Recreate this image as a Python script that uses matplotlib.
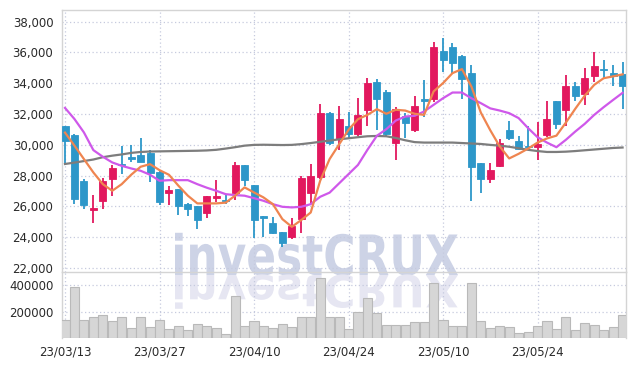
import matplotlib
matplotlib.use("Agg")
import matplotlib.pyplot as plt
import numpy as np
from matplotlib import font_manager
from matplotlib.font_manager import FontProperties
from matplotlib.textpath import TextPath
from matplotlib.patches import PathPatch
from matplotlib.transforms import Affine2D, IdentityTransform
from matplotlib.ticker import FuncFormatter

""" Data """
dates = ["23/03/13", "23/03/14", "23/03/15", "23/03/16", "23/03/17",
         "23/03/20", "23/03/21", "23/03/22", "23/03/23", "23/03/24",
         "23/03/27", "23/03/28", "23/03/29", "23/03/30", "23/03/31",
         "23/04/03", "23/04/04", "23/04/05", "23/04/06", "23/04/07",
         "23/04/10", "23/04/11", "23/04/12", "23/04/13", "23/04/14",
         "23/04/17", "23/04/18", "23/04/19", "23/04/20", "23/04/21",
         "23/04/24", "23/04/25", "23/04/26", "23/04/27", "23/04/28",
         "23/05/02", "23/05/03", "23/05/04", "23/05/08", "23/05/09",
         "23/05/10", "23/05/11", "23/05/12", "23/05/15", "23/05/16",
         "23/05/17", "23/05/18", "23/05/19", "23/05/22", "23/05/23",
         "23/05/24", "23/05/25", "23/05/26", "23/05/30", "23/05/31",
         "23/06/01", "23/06/02", "23/06/05", "23/06/07", "23/06/08"]

opens = [31200, 30650, 27650, 25800, 26350, 27800, 28750, 29150, 29350, 29500,
         28250, 26900, 27150, 26150, 26000, 25550, 26550, 26450, 26900, 28700,
         27400, 25400, 24950, 24350, 24000, 25200, 26900, 27900, 32050, 30400,
         31250, 30700, 32250, 34100, 33450, 30150, 31900, 30950, 32950, 32950,
         36100, 36350, 35800, 34700, 28800, 27800, 28600, 30950, 30250, 29950,
         29850, 30650, 32850, 32250, 33850, 33300, 34500, 34950, 34650, 34600]
highs = [31250, 30700, 27800, 26750, 27850, 28700, 29950, 30000, 30450, 29650,
         28300, 27300, 27150, 26250, 26000, 26700, 27750, 26750, 28900, 28700,
         27400, 25400, 25300, 24350, 25250, 27950, 28750, 32650, 32150, 32500,
         32150, 33050, 34350, 34250, 33550, 32450, 32100, 33200, 34200, 36700,
         36950, 36600, 35850, 35200, 28800, 28800, 30400, 31550, 30600, 31200,
         31500, 32850, 32850, 34550, 34100, 35000, 36050, 35500, 35200, 35400]
lows = [28850, 26150, 25850, 24900, 25850, 26700, 28100, 28900, 28900, 27600,
        26100, 26100, 25450, 25350, 24550, 25250, 26300, 26150, 26450, 27300,
        23950, 24000, 24200, 23350, 23900, 24250, 26150, 27800, 30000, 29650,
        30450, 30550, 31200, 30950, 30600, 29050, 30450, 30850, 31800, 32800,
        34750, 34650, 32950, 26350, 26850, 27500, 28550, 30300, 29700, 29700,
        29050, 30500, 31000, 31200, 32850, 32600, 34100, 34350, 33800, 32300]
closes = [30250, 26500, 26100, 25850, 27650, 28500, 28700, 29100, 28900, 28200,
          26300, 27100, 26050, 25850, 25150, 26650, 26700, 26350, 28700, 27750,
          25150, 25250, 24300, 23600, 24750, 27850, 27950, 32050, 30100, 31700,
          30700, 31950, 34050, 32950, 30700, 32300, 31450, 32550, 32850, 36350,
          35500, 35350, 34250, 28550, 27800, 28400, 30100, 30450, 29750, 29850,
          30050, 31650, 31350, 33850, 33200, 34350, 35100, 34850, 34500, 33850]
volumes = [137500, 382500, 137500, 162500, 172500, 130000, 157500, 75000, 157500, 82500,
           135000, 67500, 90000, 60000, 105000, 90000, 75000, 32500, 317500, 90000,
           127500, 90000, 75000, 105000, 82500, 162500, 162500, 450000, 157500, 162500,
           67500, 195000, 300000, 187500, 97500, 97500, 97500, 120000, 120000, 412500,
           135000, 90000, 90000, 412500, 127500, 75000, 90000, 82500, 37500, 45000,
           90000, 127500, 67500, 157500, 60000, 112500, 97500, 60000, 82500, 172500]

ma_short = [30800, 29950, 29080, 28210, 27450, 27020, 27450, 28060, 28580, 28750,
            28360, 28060, 27350, 26700, 26200, 26200, 26200, 26250, 26700, 27240,
            26910, 26590, 26150, 25180, 24680, 25120, 25610, 27670, 29080, 30030,
            30980, 31670, 31950, 32320, 32020, 32280, 32230, 32020, 31950, 33470,
            34010, 34660, 34920, 33790, 32100, 30950, 29900, 29120, 29420, 29760,
            30150, 30420, 30600, 31450, 32350, 33200, 33900, 34330, 34450, 34580]
ma_mid = [32400, 31680, 30810, 29660, 29230, 28860, 28640, 28470, 28320, 28060,
          27670, 27710, 27710, 27710, 27450, 27220, 27020, 26800, 26740, 26700,
          26540, 26370, 26150, 25980, 25940, 25980, 26150, 26630, 26900, 27500,
          28100, 28700, 29680, 30590, 31020, 31580, 31840, 31890, 32170, 32600,
          33030, 33400, 33400, 33030, 32710, 32370, 32230, 32060, 31740, 31090,
          30500, 30150, 29850, 30330, 30870, 31370, 31950, 32450, 32920, 33380]
ma_long = [28760, 28850, 28950, 29050, 29200, 29300, 29380, 29480, 29540, 29570,
           29580, 29590, 29600, 29610, 29620, 29640, 29680, 29760, 29850, 29950,
           30000, 30010, 30000, 29990, 30000, 30050, 30120, 30200, 30280, 30360,
           30430, 30500, 30560, 30580, 30560, 30450, 30300, 30180, 30150, 30150,
           30150, 30150, 30120, 30090, 30060, 30000, 29950, 29880, 29780, 29680,
           29600, 29540, 29540, 29560, 29600, 29650, 29700, 29750, 29800, 29830]

price_ticks = [22000, 24000, 26000, 28000, 30000, 32000, 34000, 36000, 38000]
vol_ticks = [200000, 400000]
label_every = 10

UP = "#e2185e"
DOWN = "#2d97c9"
GRID = "#c6cade"
FRAME = "#d4d4d4"

names = {f.name for f in font_manager.fontManager.ttflist}
tick_font = "Liberation Sans Narrow" if "Liberation Sans Narrow" in names else "DejaVu Sans"
tick_size = 11 if tick_font == "Liberation Sans Narrow" else 8.5

x = np.arange(len(dates))
o = np.array(opens); c = np.array(closes)
h = np.array(highs); l = np.array(lows)
up = c >= o
colors = np.where(up, UP, DOWN)

fig = plt.figure(figsize=(6.35, 3.66), dpi=100)
ax = fig.add_axes([61.7 / 635, 93.7 / 366, 564 / 635, 262.8 / 366])
axv = fig.add_axes([61.7 / 635, 28.5 / 366, 564 / 635, 65.2 / 366], sharex=ax)
for a in (ax, axv):
    a.patch.set_alpha(0)

# watermark
wm_font = FontProperties(family="DejaVu Sans", weight="bold")
tp = TextPath((0, 0), "investCRUX", size=50, prop=wm_font)
bb = tp.get_extents()
sx = (458 - 175) / bb.width
sy = (366 - 232 - 91) / bb.height
tr = Affine2D().translate(-bb.x0, 0).scale(sx, sy).translate(175, 91)
fig.add_artist(PathPatch(tr.transform_path(tp), facecolor="#cdd3e6", edgecolor="none",
                         transform=IdentityTransform(), zorder=-2))
tr2 = Affine2D().translate(-bb.x0, 0).scale(sx, -sy * 0.8).translate(175, 91)
fig.add_artist(PathPatch(tr2.transform_path(tp), facecolor="#e6e6f2", edgecolor="none",
                         transform=IdentityTransform(), zorder=-2))

# candles
ax.vlines(x, l, h, colors=colors, linewidth=1.3, zorder=3)
body = np.maximum(np.abs(c - o), 90)
ax.bar(x, body, bottom=np.minimum(o, c), width=0.74, color=colors, edgecolor=colors,
       linewidth=0.6, zorder=4)

ax.plot(x, ma_long, color="#7d7d7d", linewidth=1.6, zorder=5)
ax.plot(x, ma_mid, color="#cf58ea", linewidth=1.6, zorder=5)
ax.plot(x, ma_short, color="#ef8550", linewidth=1.6, zorder=5)

axv.bar(x, volumes, width=0.96, color="#d6d6d6", edgecolor="#b9b9b9", linewidth=0.8, zorder=3)

ax.set_xlim(-0.35, len(dates) - 1 + 0.33)
ax.set_ylim(21726, 38792)
axv.set_ylim(6700, 494000)

ax.set_yticks(price_ticks)
ax.yaxis.set_major_formatter(FuncFormatter(lambda v, p: f"{int(v):,}"))
axv.set_yticks(vol_ticks)
axv.yaxis.set_major_formatter(FuncFormatter(lambda v, p: f"{int(v)}"))
axv.set_xticks(x[::label_every])
axv.set_xticklabels(dates[::label_every])
plt.setp(ax.get_xticklabels(), visible=False)

for a in (ax, axv):
    a.grid(True, color=GRID, linestyle=(0, (1, 2)), linewidth=0.9, zorder=0)
    a.set_axisbelow(True)
    a.tick_params(length=0, pad=6, labelsize=tick_size, labelcolor="#2a2a2a")
    for lab in a.get_yticklabels() + a.get_xticklabels():
        lab.set_fontfamily(tick_font)
    for s in a.spines.values():
        s.set_color(FRAME)
        s.set_linewidth(1.0)
axv.spines["bottom"].set_visible(False)
axv.spines["top"].set_visible(False)
ax.tick_params(axis="x", length=0)

fig.savefig("out.png", dpi=100)
